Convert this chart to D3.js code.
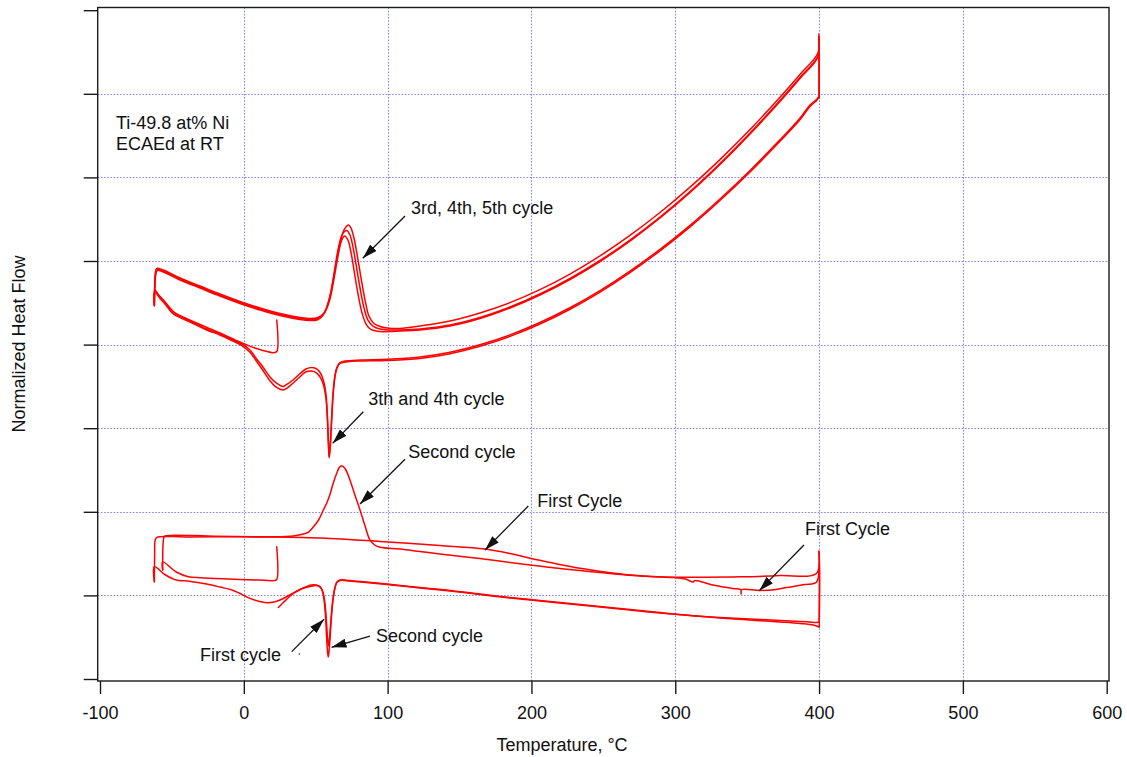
<!DOCTYPE html>
<html>
<head>
<meta charset="utf-8">
<script src="https://cdn.jsdelivr.net/npm/d3@7"></script>
<style>
  body { margin: 0; background: #fff; }
  svg text { font-family: "Liberation Sans", Arial, Helvetica, sans-serif; fill: #111; }
</style>
</head>
<body>
<svg id="chart" width="1127" height="757"></svg>
<script>
// ---- axis ticks ----
const xTicks = [-100, 0, 100, 200, 300, 400, 500, 600];
const yTicks = [0, 1, 2, 3, 4, 5, 6, 7, 8];
const xGrid = [0, 100, 200, 300, 400, 500];
const yGrid = [1, 2, 3, 4, 5, 6, 7];

// ---- DSC traces: [temperature °C, normalized heat flow (offset units)] ----
// upper set: cycles 3-5
const rtCoolUpper = [[22.9,4.294],[22.9,3.917],[20.5,3.903],[7.8,3.959],[-2.7,4.031],[-16.6,4.139],[-30.5,4.240],[-44.4,4.348],[-49.0,4.396],[-54.8,4.510],[-59.7,4.605],[-61.8,4.653],[-62.2,4.498]];
const heat3 = [[-62.2,4.462],[-62.0,4.677],[-61.6,4.844],[-60.6,4.910],[-56.0,4.892],[-44.4,4.797],[-30.5,4.701],[-16.6,4.605],[-2.7,4.516],[11.3,4.438],[25.2,4.372],[39.1,4.324],[46.0,4.312],[51.6,4.324],[55.8,4.378],[58.5,4.486],[61.3,4.689],[64.0,4.964],[66.9,5.215],[69.7,5.371],[72.8,5.431],[74.5,5.395],[76.6,5.275],[78.7,5.084],[81.5,4.797],[84.3,4.533],[87.0,4.342],[90.5,4.252],[94.7,4.217],[99.6,4.199],[108.6,4.193],[122.5,4.222],[143.4,4.282],[164.2,4.378],[185.1,4.502],[205.9,4.658],[226.8,4.844],[247.7,5.061],[268.5,5.306],[289.4,5.580],[310.3,5.883],[331.1,6.213],[352.0,6.572],[372.8,6.959],[386.7,7.232],[399.2,7.488],[399.9,7.715],[400.1,7.285],[400.1,6.974]];
const cool3 = [[400.1,6.974],[398.6,6.938],[393.7,6.866],[386.7,6.708],[372.8,6.450],[352.0,6.083],[331.1,5.742],[310.3,5.427],[289.4,5.140],[268.5,4.879],[247.7,4.646],[226.8,4.441],[205.9,4.264],[185.1,4.116],[164.2,3.998],[143.4,3.909],[122.5,3.852],[99.6,3.824],[80.8,3.816],[70.4,3.804],[66.9,3.786],[64.8,3.732],[63.4,3.636],[62.2,3.457],[61.0,3.098],[60.1,2.799],[59.4,2.644],[58.8,2.859],[58.1,3.158],[57.2,3.397],[55.8,3.541],[53.7,3.648],[50.9,3.708],[47.4,3.726],[43.2,3.708],[39.1,3.654],[34.2,3.577],[29.3,3.517],[27.3,3.499],[22.5,3.541],[18.2,3.612],[13.3,3.732],[8.9,3.828],[4.3,3.935],[-1.2,4.007],[-7.5,4.055],[-16.6,4.127],[-25.8,4.187],[-37.4,4.282],[-49.0,4.378],[-54.8,4.498],[-59.0,4.581],[-61.8,4.641],[-62.2,4.474]];
const heat4 = [[-62.2,4.474],[-61.9,4.689],[-61.4,4.838],[-60.4,4.898],[-56.0,4.880],[-44.4,4.785],[-30.5,4.689],[-16.6,4.593],[-2.7,4.504],[11.3,4.426],[25.2,4.360],[39.1,4.312],[46.0,4.300],[50.9,4.306],[54.4,4.342],[57.2,4.426],[59.9,4.581],[62.7,4.844],[65.5,5.132],[68.3,5.311],[71.4,5.365],[73.8,5.311],[75.9,5.167],[78.0,4.964],[80.8,4.677],[83.6,4.438],[86.3,4.294],[89.8,4.222],[94.7,4.187],[101.6,4.175],[108.6,4.175],[122.5,4.187],[143.4,4.234],[164.2,4.324],[185.1,4.450],[205.9,4.605],[226.8,4.791],[247.7,5.006],[268.5,5.251],[289.4,5.526],[310.3,5.831],[331.1,6.166],[352.0,6.531],[372.8,6.920],[386.7,7.195],[399.2,7.452],[399.9,7.691],[400.1,7.225],[400.1,6.962]];
const cool4 = [[400.1,6.962],[398.6,6.926],[393.7,6.848],[386.7,6.690],[372.8,6.432],[352.0,6.065],[331.1,5.724],[310.3,5.409],[289.4,5.122],[268.5,4.861],[247.7,4.628],[226.8,4.423],[205.9,4.246],[185.1,4.098],[164.2,3.980],[143.4,3.891],[122.5,3.834],[99.6,3.810],[80.8,3.804],[70.4,3.792],[66.9,3.774],[64.8,3.720],[63.4,3.612],[62.2,3.421],[61.0,3.062],[60.1,2.775],[59.3,2.656],[58.7,2.859],[58.0,3.146],[57.1,3.361],[55.6,3.505],[53.5,3.600],[50.7,3.660],[47.2,3.684],[43.0,3.672],[38.9,3.612],[34.0,3.535],[29.1,3.469],[27.1,3.457],[22.3,3.493],[18.0,3.571],[13.1,3.696],[8.7,3.804],[4.1,3.911],[-1.4,3.989],[-7.6,4.043],[-16.6,4.115],[-25.8,4.175],[-37.4,4.270],[-49.0,4.366],[-54.8,4.486],[-59.0,4.569],[-61.8,4.629],[-62.2,4.474]];
const heat5 = [[-62.2,4.498],[-61.9,4.700],[-61.3,4.830],[-60.2,4.886],[-56.0,4.868],[-44.4,4.773],[-30.5,4.677],[-16.6,4.581],[-2.7,4.492],[11.3,4.414],[25.2,4.348],[39.1,4.300],[46.0,4.288],[50.9,4.294],[54.4,4.336],[57.2,4.414],[59.9,4.545],[62.7,4.785],[65.5,5.060],[68.0,5.245],[70.1,5.299],[72.5,5.245],[74.6,5.096],[76.6,4.892],[79.4,4.605],[82.2,4.378],[85.0,4.246],[88.4,4.181],[94.7,4.157],[101.6,4.157],[108.6,4.163],[122.5,4.175],[143.4,4.222],[164.2,4.312],[185.1,4.438],[205.9,4.593],[226.8,4.779],[247.7,4.994],[268.5,5.239],[289.4,5.514],[310.3,5.819],[331.1,6.154],[352.0,6.519],[372.8,6.908],[386.7,7.183],[399.2,7.440],[399.9,7.667],[400.1,7.165],[400.1,6.950]];

// lower set: cycles 1-2
const rtCoolLower = [[22.9,1.583],[22.9,1.190],[21.2,1.178],[10.0,1.184],[-10.0,1.196],[-30.0,1.211],[-38.6,1.224],[-47.0,1.280],[-56.4,1.400],[-56.4,1.304]];
const heat1 = [[-56.4,1.304],[-56.2,1.603],[-55.6,1.693],[-54.8,1.711],[-20.0,1.708],[20.0,1.699],[60.0,1.681],[94.7,1.645],[136.4,1.597],[167.7,1.555],[185.1,1.501],[199.0,1.444],[216.4,1.382],[233.8,1.324],[251.0,1.280],[268.5,1.244],[285.0,1.226],[298.6,1.214],[307.0,1.196],[312.5,1.160],[313.5,1.178],[326.2,1.124],[340.0,1.083],[345.5,1.071],[345.8,1.017],[346.1,1.067],[358.9,1.059],[370.0,1.071],[377.5,1.094],[390.0,1.130],[398.3,1.160],[400.0,1.531],[400.1,0.622]];
const cool1 = [[400.1,0.622],[399.2,0.628],[396.0,0.646],[386.7,0.664],[372.8,0.682],[352.0,0.706],[331.1,0.730],[310.3,0.760],[289.4,0.789],[268.5,0.825],[247.7,0.861],[226.8,0.897],[205.9,0.933],[185.1,0.969],[164.2,1.011],[143.4,1.053],[122.5,1.089],[99.6,1.130],[85.0,1.154],[73.8,1.172],[67.0,1.178],[64.6,1.154],[63.0,1.065],[61.5,0.885],[60.3,0.646],[59.4,0.455],[58.8,0.395],[58.2,0.490],[57.4,0.706],[56.4,0.909],[55.0,1.041],[53.0,1.106],[50.0,1.118],[46.0,1.106],[42.0,1.089],[39.1,1.071],[32.0,1.005],[25.2,0.945],[20.0,0.917],[15.9,0.913],[11.0,0.927],[4.3,0.965],[-7.3,1.059],[-16.6,1.100],[-25.8,1.136],[-37.0,1.166],[-47.0,1.184],[-49.0,1.196],[-55.0,1.250],[-62.2,1.343],[-62.2,1.164]];
const heat2 = [[-62.2,1.164],[-62.0,1.483],[-61.6,1.663],[-60.4,1.695],[-40.0,1.699],[-10.0,1.701],[20.0,1.701],[34.4,1.711],[40.0,1.728],[45.0,1.758],[48.3,1.818],[52.0,1.902],[55.0,2.010],[57.6,2.102],[60.0,2.213],[62.0,2.333],[64.6,2.461],[66.2,2.524],[67.6,2.548],[69.0,2.542],[71.0,2.500],[73.8,2.380],[77.0,2.213],[80.8,2.022],[84.3,1.830],[87.7,1.663],[91.0,1.603],[94.7,1.575],[108.6,1.555],[122.5,1.525],[136.4,1.495],[164.2,1.440],[199.0,1.364],[216.4,1.328],[233.8,1.298],[247.7,1.274],[268.5,1.240],[285.0,1.224],[298.6,1.218],[320.0,1.217],[345.0,1.222],[372.8,1.238],[398.3,1.264],[400.0,1.531],[400.1,0.682]];
const cool2 = [[400.1,0.682],[398.5,0.676],[393.0,0.682],[386.7,0.688],[372.8,0.700],[352.0,0.718],[331.1,0.736],[310.3,0.760],[289.4,0.795],[268.5,0.831],[247.7,0.867],[226.8,0.903],[205.9,0.939],[185.1,0.975],[164.2,1.017],[143.4,1.059],[122.5,1.094],[99.6,1.136],[85.0,1.160],[73.8,1.178],[67.0,1.184],[64.8,1.160],[63.4,1.089],[62.0,0.945],[60.8,0.706],[59.9,0.467],[59.2,0.323],[58.7,0.263],[58.1,0.347],[57.4,0.562],[56.6,0.801],[55.5,0.981],[54.0,1.077],[51.5,1.118],[47.0,1.124],[43.7,1.106],[39.1,1.071],[35.5,1.035],[31.5,0.981],[27.5,0.915],[24.0,0.855]];

// annotations: text anchor and arrow (tail -> head), in data units
const notes = [
  { text: "3rd, 4th, 5th cycle", t: 116.3, v: 5.562, from: [112.1, 5.538], to: [82.7, 5.032] },
  { text: "3th and 4th cycle",   t: 86.6,  v: 3.278, from: [83.1, 3.197],  to: [61.8, 2.819] },
  { text: "Second cycle",        t: 114.4, v: 2.638, from: [112.1, 2.628], to: [80.8, 2.093] },
  { text: "First Cycle",         t: 204.1, v: 2.061, from: [197.8, 2.069], to: [167.7, 1.543] },
  { text: "First Cycle",         t: 390.2, v: 1.722, from: [389.5, 1.603], to: [358.4, 1.056] },
  { text: "First cycle",         t: -30.5, v: 0.219, from: [33.3, 0.327],  to: [55.8, 0.714] },
  { text: "Second cycle",        t: 91.9,  v: 0.446, from: [87.7, 0.514],  to: [61.0, 0.379] }
];
const sampleLines = ["Ti-49.8 at% Ni", "ECAEd at RT"];

// ---- drawing ----
const svg = d3.select("#chart");
const x = d3.scaleLinear().domain([-100, 600]).range([100, 1106.7]);
const y = d3.scaleLinear().domain([0, 8]).range([679, 10.2]);

const box = { left: 97.7, right: 1109, top: 7.5, bottom: 681 };

// grid
const grid = svg.append("g").attr("stroke", "#8484f4").attr("stroke-width", 1)
  .attr("stroke-dasharray", "1.6,1.6").attr("fill", "none");
grid.selectAll("line.v").data(xGrid).join("line").attr("class", "v")
  .attr("x1", d => Math.round(x(d)) + 0.5).attr("x2", d => Math.round(x(d)) + 0.5)
  .attr("y1", box.top).attr("y2", box.bottom);
grid.selectAll("line.h").data(yGrid).join("line").attr("class", "h")
  .attr("y1", d => Math.round(y(d)) + 0.5).attr("y2", d => Math.round(y(d)) + 0.5)
  .attr("x1", box.left).attr("x2", box.right);

// frame
svg.append("rect")
  .attr("x", box.left).attr("y", box.top)
  .attr("width", box.right - box.left).attr("height", box.bottom - box.top)
  .attr("fill", "none").attr("stroke", "#1a1a1a").attr("stroke-width", 1.4);

// axes (plain hyphen for negative labels)
const gx = svg.append("g").attr("transform", `translate(0,${box.bottom})`)
  .call(d3.axisBottom(x).tickValues(xTicks).tickSize(13).tickSizeOuter(0).tickFormat(d => String(d)));
gx.select(".domain").remove();
gx.selectAll(".tick line").attr("stroke", "#1a1a1a").attr("stroke-width", 1.4);
gx.selectAll(".tick text").attr("y", 38).attr("dy", 0).attr("font-size", 18)
  .style("font-family", '"Liberation Sans", Arial, sans-serif').attr("fill", "#111");

const gy = svg.append("g").attr("transform", `translate(${box.left},0)`)
  .call(d3.axisLeft(y).tickValues(yTicks).tickSize(14).tickSizeOuter(0).tickFormat(""));
gy.select(".domain").remove();
gy.selectAll(".tick line").attr("stroke", "#1a1a1a").attr("stroke-width", 1.4);

// axis titles
svg.append("text").attr("x", 562).attr("y", 751).attr("text-anchor", "middle")
  .attr("font-size", 18).text("Temperature, °C");
svg.append("text").attr("transform", "translate(25,344) rotate(-90)")
  .attr("text-anchor", "middle").attr("font-size", 18).text("Normalized Heat Flow");

// traces
const traces = [rtCoolUpper, heat3, cool3, heat4, cool4, heat5,
                rtCoolLower, heat1, cool1, heat2, cool2];
const line = d3.line().x(d => x(d[0])).y(d => y(d[1])).curve(d3.curveCatmullRom.alpha(0.5));
svg.append("g").attr("fill", "none").attr("stroke", "#ff0000")
  .attr("stroke-width", 1.5).attr("stroke-linejoin", "round").attr("stroke-linecap", "round")
  .selectAll("path").data(traces).join("path").attr("d", line);

// arrows
const defs = svg.append("defs");
defs.append("marker").attr("id", "head").attr("viewBox", "0 0 15 9")
  .attr("refX", 15).attr("refY", 4.5).attr("markerWidth", 15).attr("markerHeight", 9)
  .attr("markerUnits", "userSpaceOnUse").attr("orient", "auto")
  .append("path").attr("d", "M0,0 L15,4.5 L0,9 Z").attr("fill", "#111");

const ann = svg.append("g");
ann.selectAll("line").data(notes).join("line")
  .attr("x1", d => x(d.from[0])).attr("y1", d => y(d.from[1]))
  .attr("x2", d => x(d.to[0])).attr("y2", d => y(d.to[1]))
  .attr("stroke", "#111").attr("stroke-width", 1.3).attr("marker-end", "url(#head)");
ann.selectAll("text").data(notes).join("text")
  .attr("x", d => x(d.t)).attr("y", d => y(d.v)).attr("font-size", 18).text(d => d.text);
ann.append("circle").attr("cx", x(38.6)).attr("cy", y(0.299)).attr("r", 0.8).attr("fill", "#333");

// sample description
svg.append("g").selectAll("text").data(sampleLines).join("text")
  .attr("x", x(-88.9)).attr("y", (d, i) => y(6.575) + i * 21)
  .attr("font-size", 18).text(d => d);
</script>
</body>
</html>
